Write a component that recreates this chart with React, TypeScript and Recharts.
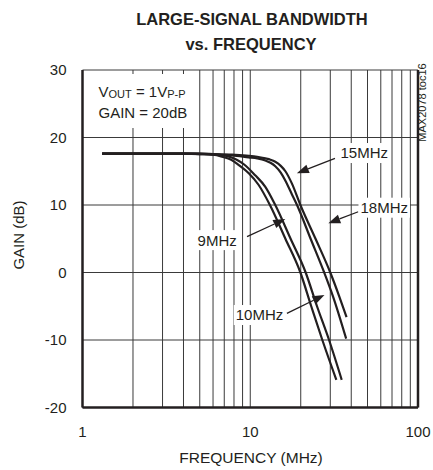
import React from 'react';
import {
  LineChart,
  Line,
  XAxis,
  YAxis,
  CartesianGrid,
  ReferenceLine,
  ReferenceDot
} from 'recharts';

// frequency (MHz) / gain (dB)
const freq9 = [1.31, 2, 3, 4, 5, 6, 6.8, 7.7, 8.55, 9.8, 11.2, 13.1, 16.2, 19.9, 23.1, 26.9, 32.6];
const gain9 = [17.6, 17.6, 17.6, 17.6, 17.55, 17.45, 17.15, 16.7, 15.9, 14.7, 13.0, 10.0, 5.0, 0.0, -5.0, -10.0, -15.9];

const freq10 = [1.31, 2, 3, 4, 5, 6, 7.4, 8.3, 9.2, 10.7, 12.3, 14.1, 17.4, 21.4, 25.0, 29.5, 35.1];
const gain10 = [17.6, 17.6, 17.6, 17.6, 17.55, 17.5, 17.2, 16.7, 16.0, 14.4, 12.7, 10.0, 5.0, 0.0, -5.0, -10.0, -15.9];

const freq15 = [1.31, 2, 3, 4, 5, 6, 7.8, 9.8, 11, 12.3, 13.2, 14.1, 15.2, 16.2, 17.7, 19.0, 22.9, 27.6, 31.2, 37.3];
const gain15 = [17.6, 17.6, 17.6, 17.6, 17.6, 17.5, 17.35, 17.05, 16.9, 16.6, 16.25, 15.75, 14.8, 13.6, 11.6, 10.0, 5.0, 0.0, -3.6, -9.8];

const freq18 = [1.31, 2, 3, 4, 5, 6, 7.8, 9.8, 11, 12.3, 13.2, 14.1, 15.2, 16.2, 17.7, 19.9, 24.5, 30.0, 34.0, 37.5];
const gain18 = [17.6, 17.6, 17.6, 17.6, 17.6, 17.55, 17.45, 17.3, 17.15, 16.9, 16.7, 16.4, 15.8, 15.0, 13.2, 10.0, 5.0, 0.0, -3.6, -6.6];

const gridFreqs = [1, 2, 3, 4, 5, 6, 7, 8, 9, 10, 20, 30, 40, 50, 60, 70, 80, 90, 100];
const freqTickLabels = [1, 10, 100];
const gainTicks = [-20, -10, 0, 10, 20, 30];

// callouts: label position, arrow tail, arrow tip (data coords)
const callouts = [
  { text: '9MHz', f: 6.35, g: 4.8, f1: 9.57, g1: 5.31, f2: 16.18, g2: 7.93 },
  { text: '10MHz', f: 11.36, g: -6.3, f1: 16.54, g1: -6.05, f2: 27.7, g2: -3.33 },
  { text: '15MHz', f: 47.8, g: 17.7, f1: 32.0, g1: 16.92, f2: 18.96, g2: 14.7 },
  { text: '18MHz', f: 62.9, g: 9.6, f1: 44.05, g1: 9.0, f2: 29.2, g2: 7.29 },
];

const toPoints = (fs: number[], gs: number[]) => fs.map((f, i) => ({ f, g: gs[i] }));

const series = [
  { name: '9MHz', data: toPoints(freq9, gain9) },
  { name: '10MHz', data: toPoints(freq10, gain10) },
  { name: '15MHz', data: toPoints(freq15, gain15) },
  { name: '18MHz', data: toPoints(freq18, gain18) },
];

const INK = '#231f20';
const FONT = '"Liberation Sans", Arial, Helvetica, sans-serif';

const Arrow = (p: any) => {
  const { x1, y1, x2, y2 } = p;
  const dx = x2 - x1;
  const dy = y2 - y1;
  const len = Math.hypot(dx, dy) || 1;
  const ux = dx / len;
  const uy = dy / len;
  const hl = 12;
  const hw = 4.5;
  const bx = x2 - ux * hl;
  const by = y2 - uy * hl;
  const pts = `${x2},${y2} ${bx - uy * hw},${by + ux * hw} ${bx + uy * hw},${by - ux * hw}`;
  return (
    <g>
      <line x1={x1} y1={y1} x2={bx} y2={by} stroke={INK} strokeWidth={1.3} />
      <polygon points={pts} fill={INK} />
    </g>
  );
};

const makeLabel = (text: string) => (p: any) => {
  const w = text.length * 9.5 + 4;
  return (
    <g>
      <rect x={p.cx - w / 2} y={p.cy - 10} width={w} height={20} fill="#fff" />
      <text x={p.cx} y={p.cy} dy="0.36em" textAnchor="middle" fontSize={15} fontFamily={FONT} fill={INK}>
        {text}
      </text>
    </g>
  );
};

const Inset = (p: any) => (
  <g>
    <rect x={p.cx + 2.5} y={p.cy + 4} width={110} height={54} fill="#fff" />
    <text x={p.cx + 16} y={p.cy + 26.7} fontSize={15} fontFamily={FONT} fill={INK}>
      V<tspan fontSize={11} dy={1.5}>OUT</tspan>
      <tspan dy={-1.5}> = 1V</tspan>
      <tspan fontSize={11} dy={1.5}>P-P</tspan>
    </text>
    <text x={p.cx + 16} y={p.cy + 47.7} fontSize={15} fontFamily={FONT} fill={INK}>
      GAIN = 20dB
    </text>
  </g>
);

const App: React.FC = () => {
  return (
    <div style={{ position: 'absolute', left: 0, top: 0, width: 433, height: 470, background: '#fff', fontFamily: FONT }}>
      <LineChart width={433} height={470} margin={{ top: 70, right: 15, bottom: 32.5, left: 42.5 }}>
        <CartesianGrid stroke="#3a3a3a" strokeWidth={1} />
        <XAxis
          dataKey="f"
          type="number"
          scale="log"
          domain={[1, 100]}
          ticks={gridFreqs}
          allowDataOverflow
          height={30}
          axisLine={false}
          tickLine={false}
          tickSize={0}
          tickMargin={19}
          interval={0}
          tickFormatter={(v: number) => (freqTickLabels.includes(v) ? String(v) : '')}
          tick={{ fill: INK, fontSize: 15, fontFamily: FONT }}
        />
        <YAxis
          type="number"
          domain={[-20, 30]}
          ticks={gainTicks}
          width={40}
          axisLine={false}
          tickLine={false}
          tickSize={0}
          tickMargin={16}
          interval={0}
          tick={{ fill: INK, fontSize: 15, fontFamily: FONT }}
        />
        <ReferenceLine x={1} stroke={INK} strokeWidth={2.5} />
        <ReferenceLine x={100} stroke={INK} strokeWidth={2.5} />
        <ReferenceLine y={-20} stroke={INK} strokeWidth={2.5} />
        <ReferenceDot x={1} y={30} r={0} shape={Inset} />
        {callouts.map((c) => (
          <ReferenceLine
            key={'a' + c.text}
            segment={[{ x: c.f1, y: c.g1 }, { x: c.f2, y: c.g2 }]}
            shape={Arrow}
          />
        ))}
        {callouts.map((c) => (
          <ReferenceDot key={'l' + c.text} x={c.f} y={c.g} r={0} shape={makeLabel(c.text)} />
        ))}
        {series.map((s) => (
          <Line
            key={s.name}
            data={s.data}
            dataKey="g"
            name={s.name}
            type="monotone"
            stroke={INK}
            strokeWidth={2.2}
            dot={false}
            isAnimationActive={false}
          />
        ))}
      </LineChart>
      <svg
        width={433}
        height={470}
        style={{ position: 'absolute', left: 0, top: 0, pointerEvents: 'none' }}
      >
        <text x={252} y={25} textAnchor="middle" fontSize={16.5} fontWeight="bold" fontFamily={FONT} fill={INK}>
          LARGE-SIGNAL BANDWIDTH
        </text>
        <text x={251} y={50} textAnchor="middle" fontSize={16.5} fontWeight="bold" fontFamily={FONT} fill={INK}>
          vs. FREQUENCY
        </text>
        <text x={251} y={463} textAnchor="middle" fontSize={15.5} fontFamily={FONT} fill={INK}>
          FREQUENCY (MHz)
        </text>
        <text
          transform="translate(24 235) rotate(-90)"
          textAnchor="middle"
          fontSize={15}
          fontFamily={FONT}
          fill={INK}
        >
          GAIN (dB)
        </text>
        <text
          transform="translate(425.5 102.5) rotate(-90)"
          textAnchor="middle"
          fontSize={11}
          fontFamily={FONT}
          fill={INK}
        >
          MAX2078 toc16
        </text>
      </svg>
    </div>
  );
};

export default App;
